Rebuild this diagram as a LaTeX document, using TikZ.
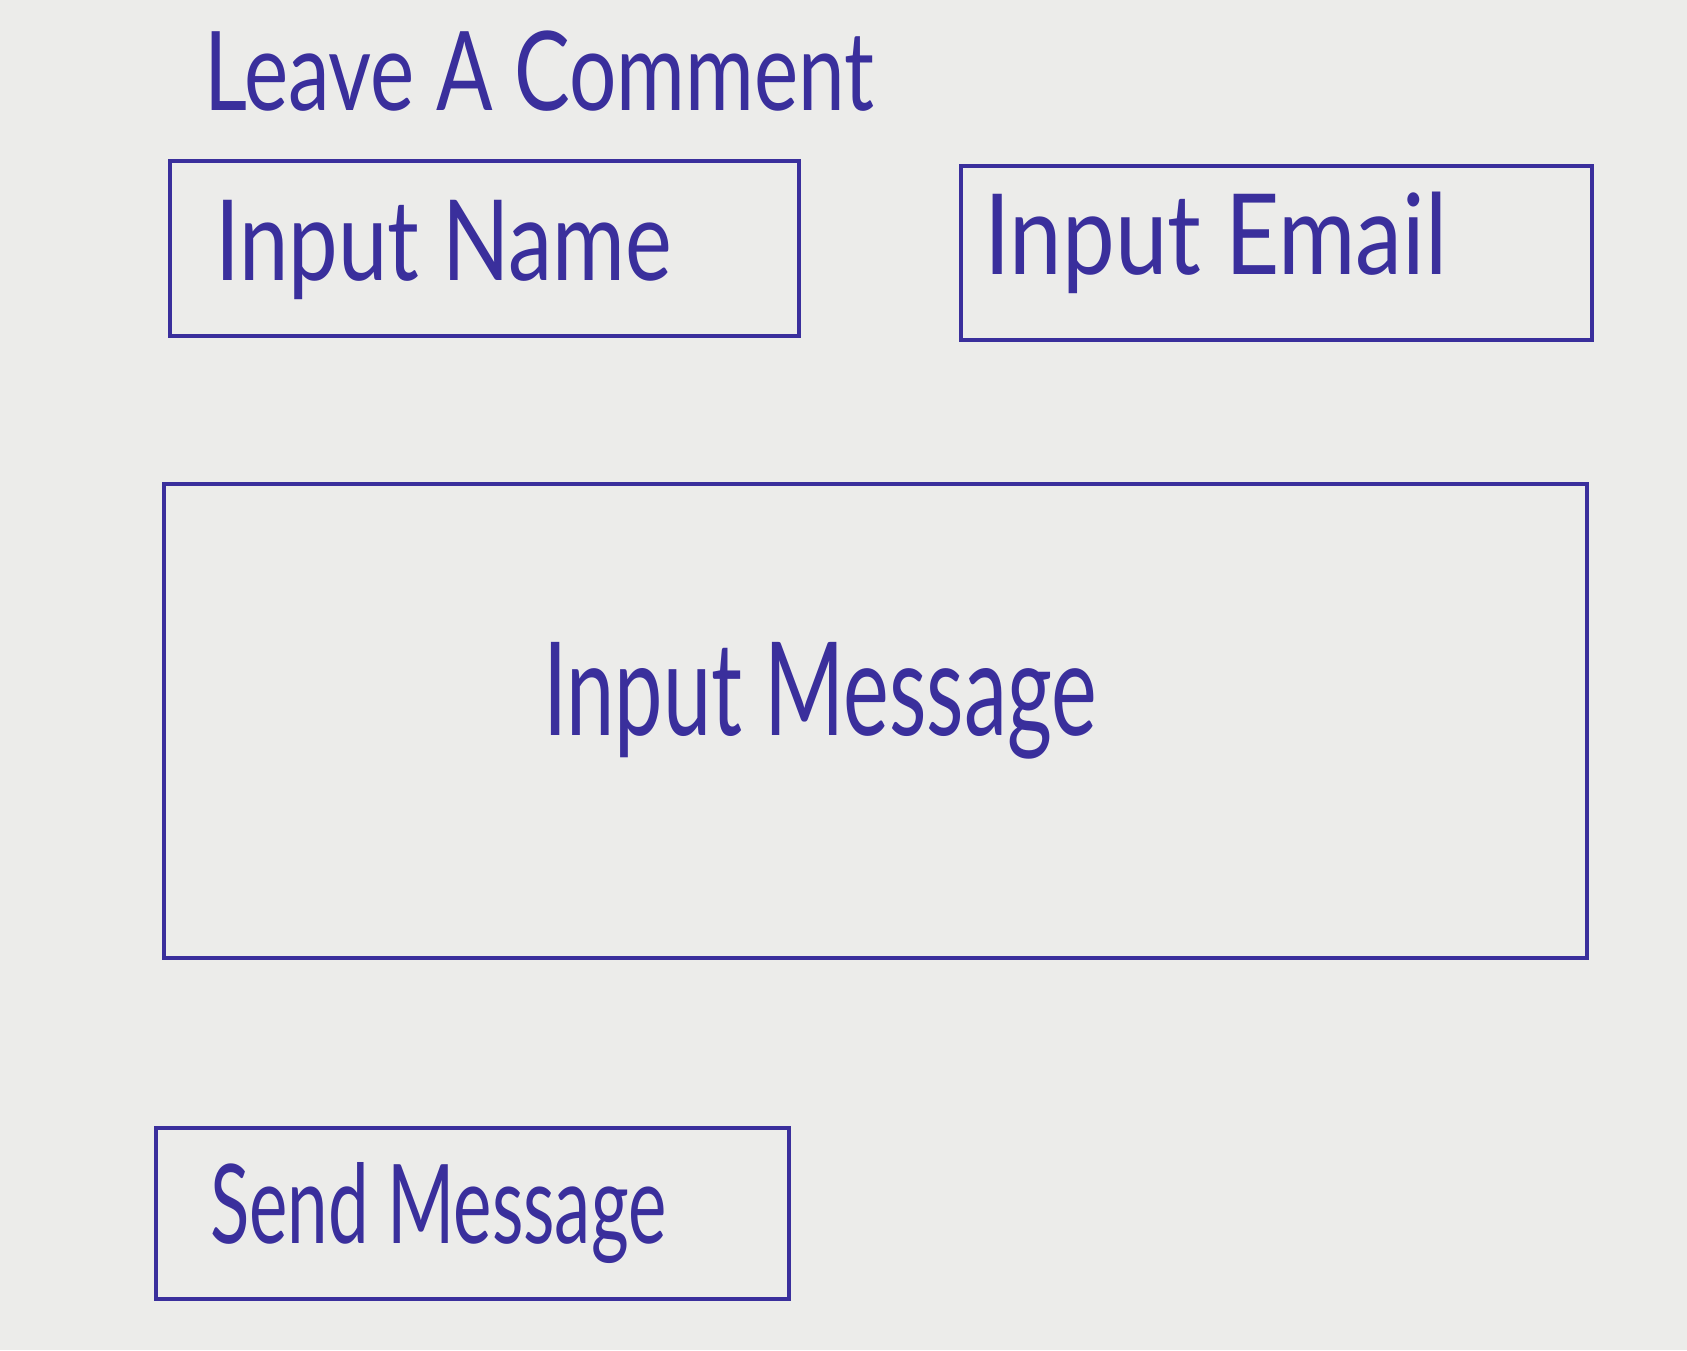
\documentclass[tikz,border=0pt]{standalone}
\usepackage{fontspec}
\setmainfont{Lato}
\definecolor{ink}{HTML}{3A2F9C}
\definecolor{paper}{HTML}{ECECEA}
\begin{document}
\begin{tikzpicture}[x=1pt,y=-1pt,
  box/.style={draw=ink, line width=3.2pt, minimum width=#1, inner sep=0pt},
  hand/.style={text=ink, anchor=base west, inner sep=0pt, font=\fontsize{#1}{#1}\selectfont},
]
\fill[paper] (0,0) rectangle (1687,1350);
\useasboundingbox (0,0) rectangle (1687,1350);

\node[box=629pt, minimum height=175pt] (namebox) at (484.5,248.5) {};
\node[box=631pt, minimum height=174pt] (emailbox) at (1276.5,253) {};
\node[box=1423pt, minimum height=474pt] (msgbox) at (875.5,721) {};
\node[box=633pt, minimum height=171pt] (sendbox) at (472.5,1213.5) {};

\node[hand=110, xscale=0.76, transform shape] (title) at (204,110) {Leave A Comment};
\node[hand=112, xscale=0.79, transform shape] (name) at (215,280) {Input Name};
\node[hand=112, xscale=0.84, transform shape] (email) at (984,274) {Input Email};
\node[hand=130, xscale=0.665, transform shape] (msg) at (543,735) {Input Message};
\node[hand=110, xscale=0.66, transform shape] (send) at (210,1243) {Send Message};
\end{tikzpicture}
\end{document}
